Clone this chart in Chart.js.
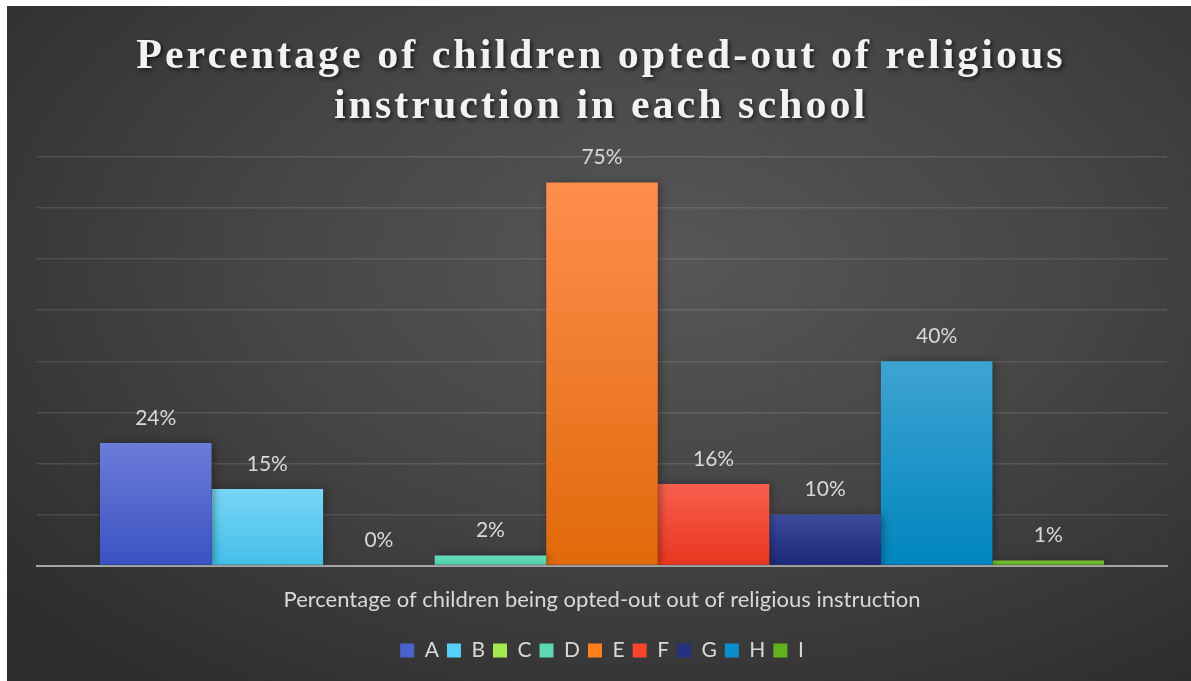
<!DOCTYPE html>
<html>
<head>
<meta charset="utf-8">
<script src="https://cdn.jsdelivr.net/npm/chart.js@4/dist/chart.umd.min.js"></script>
<style>
  html, body { margin:0; padding:0; background:#fff; }
  #wrap {
    position:absolute; left:7px; top:6px; width:1184px; height:675px;
    background: radial-gradient(ellipse 75% 80% at 56% 38%, #575757 0%, #464646 45%, #2c2c2c 100%);
  }
  canvas { display:block; }
</style>
</head>
<body>
<div id="wrap"><canvas id="chart" width="1184" height="675"></canvas></div>
<script>
// DATA
const categories = ['Percentage of children being opted-out out of religious instruction'];
const schools = ['A','B','C','D','E','F','G','H','I'];
const values = [24, 15, 0, 2, 75, 16, 10, 40, 1];
const yTicks = [0, 10, 20, 30, 40, 50, 60, 70, 80];
const titleLines = ['Percentage of children opted-out of religious', 'instruction in each school'];

// colours: [top, bottom, legend]
const colors = [
  ['#6b7cd8','#3a52c2','#4a63cc'],
  ['#78d6f6','#43bfe9','#55cff7'],
  ['#b2ee62','#95d83c','#a5e84f'],
  ['#66dcbb','#50cfa8','#5cd9b4'],
  ['#ff8e4e','#e0690a','#ff7f1f'],
  ['#f85f4e','#e8361e','#f8452c'],
  ['#3c4b9c','#1c2878','#25307f'],
  ['#3ea3d2','#0086bf','#0a8fca'],
  ['#78c234','#5fae1c','#62b21e']
];

function barFill(i){
  return ctx => {
    const chart = ctx.chart;
    if(!chart.chartArea || !chart.scales.y) return colors[i][2];
    const y = chart.scales.y;
    const top = y.getPixelForValue(values[i]);
    const bot = y.getPixelForValue(0);
    if(bot - top < 1) return colors[i][2];
    const g = chart.ctx.createLinearGradient(0, top, 0, bot);
    g.addColorStop(0, colors[i][0]);
    g.addColorStop(1, colors[i][1]);
    return g;
  };
}

// TITLE
const titlePlugin = {
  id:'bigTitle',
  afterDraw(chart){
    const c = chart.ctx;
    c.save();
    c.font = 'bold 42px "Liberation Serif"';
    c.letterSpacing = '3px';
    c.textAlign = 'center';
    c.textBaseline = 'alphabetic';
    c.fillStyle = '#f2f2f2';
    c.shadowColor = 'rgba(0,0,0,0.65)';
    c.shadowBlur = 4;
    c.shadowOffsetX = 2;
    c.shadowOffsetY = 2;
    c.fillText(titleLines[0], chart.width/2 + 2, 62);
    c.fillText(titleLines[1], chart.width/2 + 2, 112);
    c.restore();
  }
};

// DATA LABELS + bar shadow
const labelPlugin = {
  id:'valueLabels',
  beforeDatasetsDraw(chart){
    const c = chart.ctx;
    c.save();
    c.shadowColor = 'rgba(0,0,0,0.35)';
    c.shadowBlur = 8;
    c.shadowOffsetX = 2;
    c.shadowOffsetY = 0;
  },
  afterDatasetsDraw(chart){
    const c = chart.ctx;
    c.restore();
    c.save();
    c.font = '21px Lato';
    c.fillStyle = '#d9d9d9';
    c.textAlign = 'center';
    c.textBaseline = 'middle';
    chart.data.datasets.forEach((ds, i) => {
      const bar = chart.getDatasetMeta(i).data[0];
      c.fillText(ds.data[0] + '%', bar.x, bar.y - 25);
    });
    c.restore();
  }
};

new Chart(document.getElementById('chart'), {
  type:'bar',
  data:{
    labels: categories,
    datasets: schools.map((s, i) => ({
      label: s,
      data: [values[i]],
      backgroundColor: barFill(i),
      borderWidth: 0,
      barPercentage: 1,
      categoryPercentage: 0.8885
    }))
  },
  options:{
    responsive:false,
    animation:false,
    layout:{ padding:{ left:30, right:24, top:151, bottom:10 } },
    plugins:{
      title:{ display:false },
      tooltip:{ enabled:false },
      legend:{
        position:'bottom',
        labels:{
          color:'#d9d9d9',
          font:{ family:'Lato', size:21 },
          boxWidth:14, boxHeight:14, padding:8,
          generateLabels: chart => schools.map((s, i) => ({
            text: s, fillStyle: colors[i][2], strokeStyle: colors[i][2],
            lineWidth: 0, fontColor:'#d9d9d9', datasetIndex: i
          }))
        }
      }
    },
    scales:{
      x:{
        afterFit: axis => { axis.height += 6; },
        grid:{ display:false },
        border:{ display:true, color:'#a6a6a6', width:2 },
        ticks:{ color:'#d9d9d9', font:{ family:'Lato', size:22 }, padding:13 }
      },
      y:{
        min:0, max:80,
        afterBuildTicks: axis => { axis.ticks = yTicks.map(v => ({ value:v })); },
        ticks:{ display:false },
        border:{ display:false },
        grid:{ color:'rgba(255,255,255,0.11)', lineWidth:1.5, drawTicks:false }
      }
    }
  },
  plugins:[titlePlugin, labelPlugin]
});
</script>
</body>
</html>
